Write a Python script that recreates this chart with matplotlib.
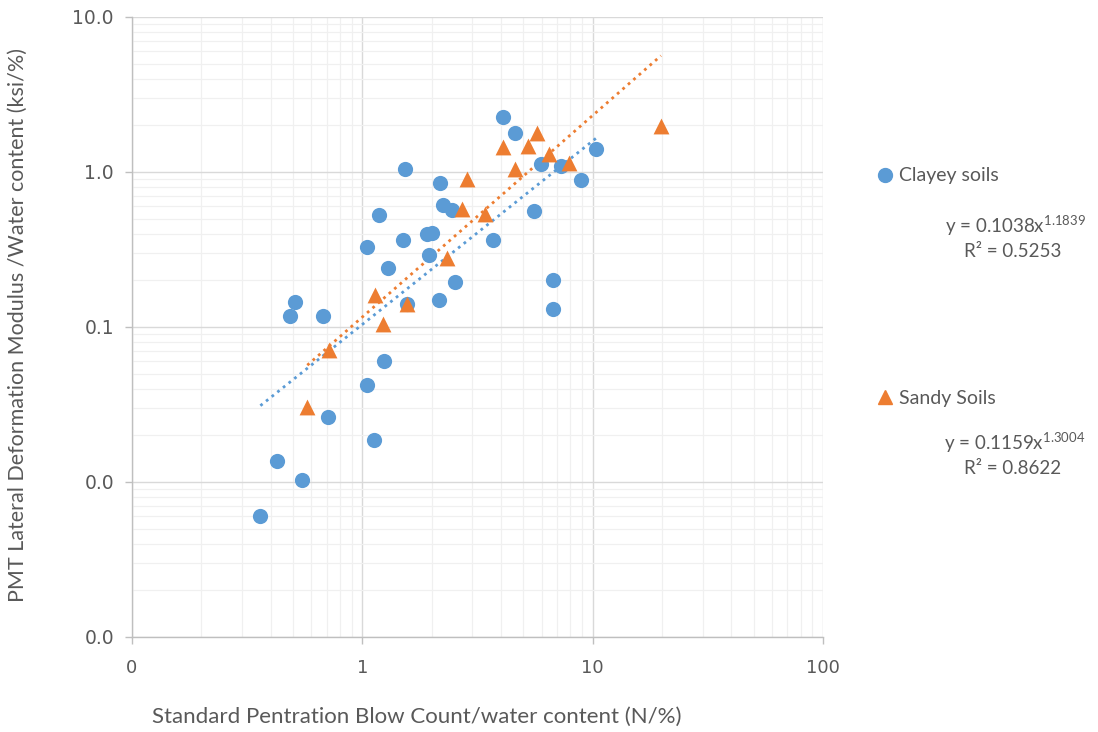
"""Log-log scatter of PMT modulus vs SPT blow count (both normalised by water content)."""

import matplotlib
matplotlib.use("Agg")
import matplotlib.pyplot as plt
import numpy as np
from matplotlib.lines import Line2D
from matplotlib.ticker import FixedLocator, NullFormatter, LogLocator

# clayey soils (blue circles)
clay_x = [0.361, 0.428, 0.549, 0.487, 0.512, 0.677, 0.712, 1.05, 1.05, 1.127,
          1.185, 1.246, 1.297, 1.507, 1.537, 1.567, 1.914, 2.01, 1.954, 2.18,
          2.245, 2.456, 2.158, 2.53, 3.70, 4.09, 4.61, 5.57, 5.98, 6.74,
          6.74, 7.30, 8.91, 10.36]
clay_y = [0.00604, 0.01365, 0.0103, 0.1178, 0.145, 0.1178, 0.0263, 0.328, 0.0423, 0.0187,
          0.528, 0.0603, 0.240, 0.364, 1.045, 0.141, 0.398, 0.404, 0.291, 0.849,
          0.612, 0.569, 0.149, 0.195, 0.364, 2.26, 1.79, 0.56, 1.13, 0.201,
          0.131, 1.09, 0.888, 1.41]

# sandy soils (orange triangles)
sand_x = [0.577, 0.719, 1.139, 1.233, 1.567, 2.34, 2.715, 2.855, 3.42, 4.09,
          4.61, 5.25, 5.75, 6.48, 7.91, 19.8]
sand_y = [0.0305, 0.0711, 0.161, 0.1045, 0.141, 0.279, 0.577, 0.901, 0.536, 1.45,
          1.045, 1.47, 1.79, 1.31, 1.14, 1.98]

# power-law trendlines y = a * x^b, with R^2
clay_fit = (0.1038, 1.1839, 0.5253)
sand_fit = (0.1159, 1.3004, 0.8622)

x_ticks = [0.1, 1, 10, 100]
x_tick_labels = ["0", "1", "10", "100"]
y_ticks = [0.001, 0.01, 0.1, 1, 10]
y_tick_labels = ["0.0", "0.0", "0.1", "1.0", "10.0"]

BLUE = "#5B9BD5"
ORANGE = "#ED7D31"
TEXT = "#595959"

plt.rcParams["font.family"] = ["Lato", "DejaVu Sans"]
plt.rcParams["mathtext.fontset"] = "custom"
plt.rcParams["mathtext.rm"] = "Lato"
plt.rcParams["mathtext.it"] = "Lato:italic"

fig = plt.figure(figsize=(10.98, 7.32), dpi=100)
ax = fig.add_axes([0.1202, 0.1298, 0.7495 - 0.1202, 0.9768 - 0.1298])

ax.set_xscale("log")
ax.set_yscale("log")
ax.set_xlim(0.1, 100)
ax.set_ylim(0.001, 10)

# gridlines: light minor, slightly darker major
ax.xaxis.set_minor_locator(LogLocator(base=10, subs=np.arange(2, 10)))
ax.yaxis.set_minor_locator(LogLocator(base=10, subs=np.arange(2, 10)))
ax.xaxis.set_minor_formatter(NullFormatter())
ax.yaxis.set_minor_formatter(NullFormatter())
ax.grid(which="minor", color="#F0F0F0", linewidth=0.9)
ax.grid(which="major", color="#D9D9D9", linewidth=1.0)
ax.set_axisbelow(True)

ax.xaxis.set_major_locator(FixedLocator(x_ticks))
ax.yaxis.set_major_locator(FixedLocator(y_ticks))
ax.set_xticklabels(x_tick_labels)
ax.set_yticklabels(y_tick_labels)
ax.tick_params(which="major", length=5, color="#BFBFBF", width=1.0)
ax.tick_params(which="minor", length=0)
ax.tick_params(axis="x", pad=11, labelsize=13, labelcolor=TEXT)
ax.tick_params(axis="y", pad=8, labelsize=13.5, labelcolor=TEXT)
for lab in ax.get_xticklabels() + ax.get_yticklabels():
    lab.set_family("DejaVu Sans")

for side in ("top", "right"):
    ax.spines[side].set_visible(False)
for side in ("left", "bottom"):
    ax.spines[side].set_color("#BFBFBF")
    ax.spines[side].set_linewidth(1.0)

ax.scatter(clay_x, clay_y, s=120, marker="o", color=BLUE, linewidths=0, zorder=3)
ax.scatter(sand_x, sand_y, s=130, marker="^", color=ORANGE, linewidths=0, zorder=3)

# trendlines span each series' x range
for xs, (a, b, _), col in ((clay_x, clay_fit, BLUE), (sand_x, sand_fit, ORANGE)):
    xx = np.logspace(np.log10(min(xs)), np.log10(max(xs)), 200)
    ax.plot(xx, a * xx ** b, color=col, linestyle=(0, (1, 1.6)), linewidth=2.0, zorder=2)

fig.text(417 / 1098, 1 - 717 / 732, "Standard Pentration Blow Count/water content (N/%)",
         ha="center", va="center", fontsize=16, color=TEXT)
fig.text(18 / 1098, 1 - 325 / 732, "PMT Lateral Deformation Modulus /Water content (ksi/%)",
         ha="center", va="center", rotation=90, fontsize=15.5, color=TEXT)

# legend entries with their trendline equations underneath
entries = [
    (Line2D([], [], marker="o", color=BLUE, linestyle="none", markersize=10), "Clayey soils",
     176, clay_fit, 226, 252),
    (Line2D([], [], marker="^", color=ORANGE, linestyle="none", markersize=10), "Sandy Soils",
     398, sand_fit, 443, 468),
]
for handle, label, ly, (a, b, r2), ey, ry in entries:
    fig.legend([handle], [label], loc="center left", bbox_to_anchor=(878 / 1098, 1 - ly / 732),
               frameon=False, handlelength=0.7, handletextpad=0.4, borderpad=0,
               borderaxespad=0, fontsize=14, labelcolor=TEXT)
    fig.text(1015 / 1098, 1 - ey / 732, f"y = {a:.4f}x$^{{{b:.4f}}}$",
             ha="center", va="center", fontsize=13.5, color=TEXT)
    fig.text(1013 / 1098, 1 - ry / 732, f"R² = {r2:.4f}",
             ha="center", va="center", fontsize=13.5, color=TEXT)

fig.savefig("out.png", dpi=100)
